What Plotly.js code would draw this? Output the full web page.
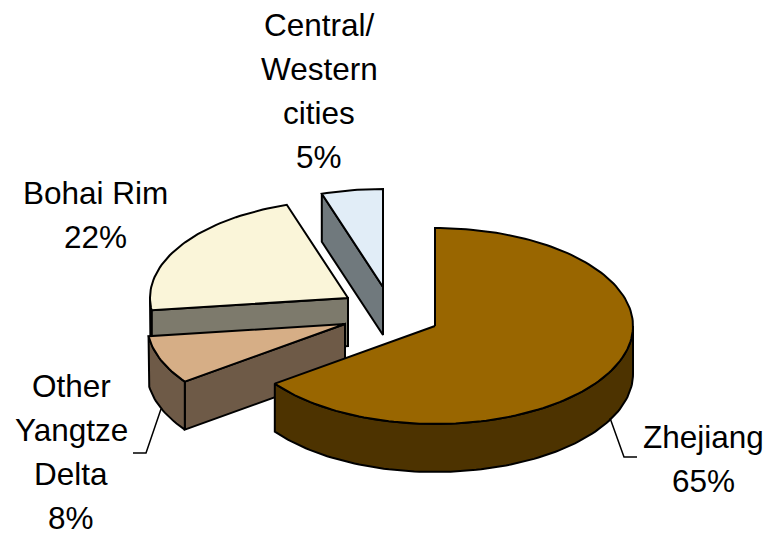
<!DOCTYPE html>
<html>
<head>
<meta charset="utf-8">
<script src="https://cdn.plot.ly/plotly-3.0.1.min.js"></script>
<style>html,body{margin:0;padding:0;background:#fff}#chart{width:767px;height:535px}</style>
</head>
<body>
<div id="chart"></div>
<script>
// Share of total by region, in percent, clockwise from twelve o'clock
var regions = ['Zhejiang', 'Other Yangtze Delta', 'Bohai Rim', 'Central/ Western cities'];
var shares = [65, 8, 22, 5];

// Label text, one entry per printed line
var labelLines = [['Zhejiang'], ['Other', 'Yangtze', 'Delta'], ['Bohai Rim'], ['Central/', 'Western', 'cities']];

var topColors = ['#996600', '#d6ae86', '#faf5d9', '#e1edf7'];
var wallColors = ['#4d3300', '#6e5a47', '#7d7a6c', '#70797d'];

// Pie geometry in plot units: exploded centres, ellipse radii, extrusion depth
var centres = [[435, 326], [345, 324], [348, 298], [383, 287]];
var rx = 198, ry = 98, depth = 48;

// Where each label block sits: centre x, and y of its first line
var labelAnchors = [[703, 437], [71, 386], [95, 193], [319, 25]];
var lineStep = 44;

function rim(c, deg) {
  var a = deg * Math.PI / 180;
  return [c[0] + rx * Math.sin(a), c[1] - ry * Math.cos(a)];
}
function arc(c, from, to) {
  var pts = [], n = Math.max(2, Math.ceil((to - from) / 1.5));
  for (var i = 0; i <= n; i++) pts.push(rim(c, from + (to - from) * i / n));
  return pts;
}
function polygon(pts, fill) {
  var closed = pts.concat([pts[0]]);
  return {
    type: 'scatter', mode: 'lines', fill: 'toself', fillcolor: fill,
    x: closed.map(function (p) { return p[0]; }),
    y: closed.map(function (p) { return p[1]; }),
    line: {color: '#000', width: 2, shape: 'linear'},
    hoverinfo: 'skip', showlegend: false
  };
}
function drop(pts) {
  return pts.map(function (p) { return [p[0], p[1] + depth]; });
}

// Angular span of each slice
var spans = [], running = 0;
shares.forEach(function (s) {
  spans.push([running, running + s * 3.6]);
  running += s * 3.6;
});

var traces = [];
// Painted from the back of the pie to the front
[3, 2, 1, 0].forEach(function (i) {
  var c = centres[i], a0 = spans[i][0], a1 = spans[i][1];
  // radial face on the slice's leading edge
  if (a0 > 0) {
    var r = rim(c, a0);
    traces.push(polygon([r, c, [c[0], c[1] + depth], [r[0], r[1] + depth]], wallColors[i]));
  }
  // outer wall, only where the rim faces the viewer
  var f0 = Math.max(a0, 90), f1 = Math.min(a1, 270);
  if (f1 > f0) {
    var edge = arc(c, f0, f1);
    traces.push(polygon(edge.concat(drop(edge).reverse()), wallColors[i]));
  }
  traces.push(polygon([c].concat(arc(c, a0, a1)), topColors[i]));
});

// Leader lines for the two lower labels
[[[610, 418], [624, 457], [637, 457]], [[161, 409], [146, 453], [133, 453]]].forEach(function (l) {
  traces.push({
    type: 'scatter', mode: 'lines',
    x: l.map(function (p) { return p[0]; }), y: l.map(function (p) { return p[1]; }),
    line: {color: '#000', width: 1.5}, hoverinfo: 'skip', showlegend: false
  });
});

var annotations = [];
labelLines.forEach(function (lines, i) {
  lines.concat([shares[i] + '%']).forEach(function (text, j) {
    annotations.push({
      x: labelAnchors[i][0], y: labelAnchors[i][1] + j * lineStep,
      xref: 'x', yref: 'y', text: text, showarrow: false,
      xanchor: 'center', yanchor: 'middle',
      font: {family: '"Liberation Sans", Arial, sans-serif', size: 31.5, color: '#000'}
    });
  });
});

Plotly.newPlot('chart', traces, {
  width: 767, height: 535,
  margin: {l: 0, r: 0, t: 0, b: 0},
  paper_bgcolor: '#fff', plot_bgcolor: '#fff',
  xaxis: {range: [0, 767], visible: false, fixedrange: true},
  yaxis: {range: [535, 0], visible: false, fixedrange: true},
  annotations: annotations, showlegend: false
}, {displayModeBar: false, staticPlot: true});
</script>
</body>
</html>
